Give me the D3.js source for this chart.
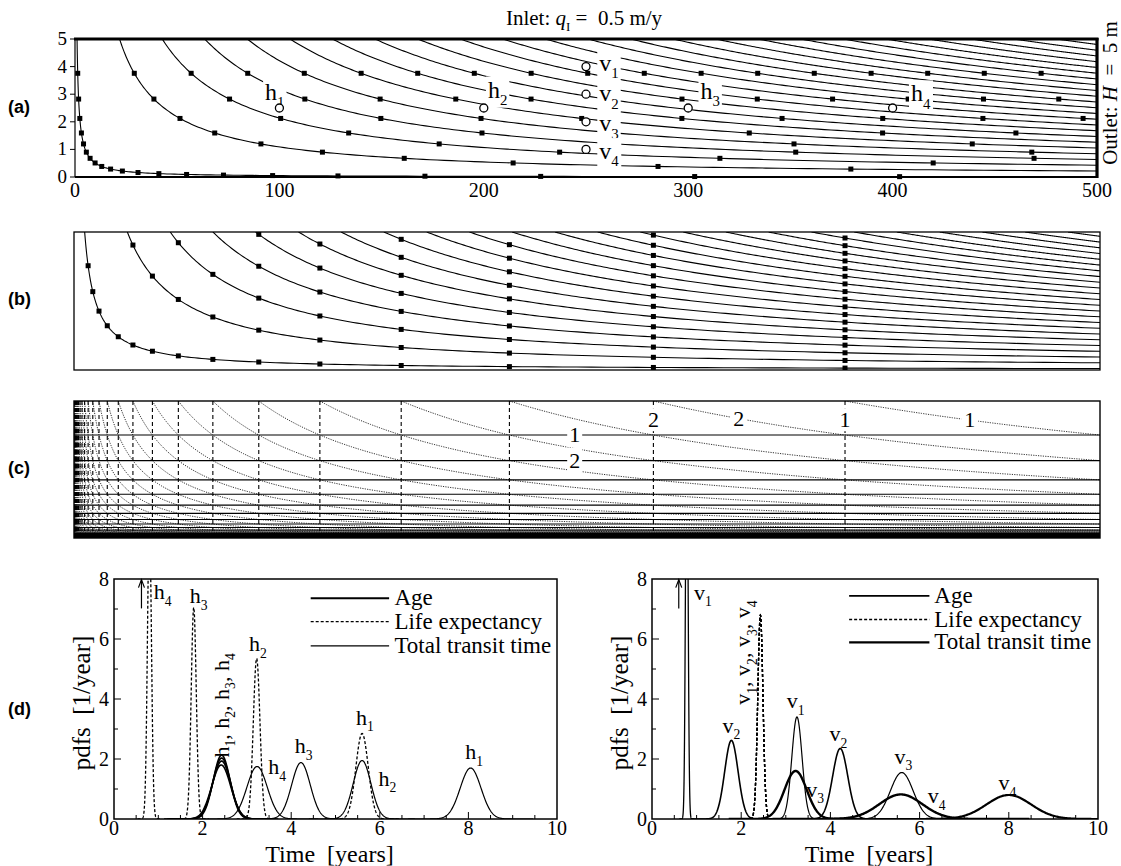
<!DOCTYPE html>
<html>
<head>
<meta charset="utf-8">
<script src="https://cdn.jsdelivr.net/npm/d3@7"></script>
<style>
body { margin: 0; background: #fff; }
svg text { font-family: "Liberation Serif", "DejaVu Serif", serif; fill: #000; white-space: pre; }
svg text.plab { font-family: "Liberation Sans", Arial, sans-serif; font-weight: bold; font-size: 18px; }
</style>
</head>
<body>
<svg id="fig" width="1121" height="866" font-family="Liberation Serif"></svg>
<script>
// ---- model / picture values ----
var aquiferLength = 500;     // m
var aquiferDepth = 5;        // m
var recharge = 0.5;          // m/y
var porosity = 0.35;

var xTicksA = [0, 100, 200, 300, 400, 500];
var zTicksA = [0, 1, 2, 3, 4, 5];

var streamStartA = [1, 21.8, 42.7, 63.5, 84.3, 105.2, 126, 146.8, 167.7, 188.5, 209.3, 230.2,
    251, 271.8, 292.7, 313.5, 334.3, 355.2, 376, 396.8, 417.7, 438.5, 459.3, 480.2];
var streamStartB = [5.2, 26, 46.9, 67.7, 88.5, 109.4, 130.2, 151, 171.9, 192.7, 213.5, 234.4,
    255.2, 276, 296.9, 317.7, 338.5, 359.4, 380.2, 401, 421.9, 442.7, 463.5, 484.4];

// isochrone years (markers and lines every year)
var isoYears = [1, 2, 3, 4, 5, 6, 7, 8, 9, 10, 11, 12, 13, 14, 15, 16, 17, 18, 19, 20,
    21, 22, 23, 24, 25, 26, 27, 28, 29, 30, 31, 32, 33, 34, 35, 36, 37, 38, 39, 40];

// observation points
var hPoints = [{name: "h1", x: 100, z: 2.5}, {name: "h2", x: 200, z: 2.5},
    {name: "h3", x: 300, z: 2.5}, {name: "h4", x: 400, z: 2.5}];
var vPoints = [{name: "v1", x: 250, z: 4}, {name: "v2", x: 250, z: 3},
    {name: "v3", x: 250, z: 2}, {name: "v4", x: 250, z: 1}];

// label anchors in panel (a), data coords (baseline, left)
var hLabelsA = [{s: "h1", x: 93, z: 2.8}, {s: "h2", x: 202, z: 2.88},
    {s: "h3", x: 306, z: 2.82}, {s: "h4", x: 409, z: 2.74}];
var vLabelsA = [{s: "v1", x: 256.5, z: 3.83}, {s: "v2", x: 256.5, z: 2.74},
    {s: "v3", x: 256.5, z: 1.65}, {s: "v4", x: 256.5, z: 0.65}];

// pdf peaks, panel (d): centre c [y], peak height p [1/y], spread s [y]
var hAgePeaks = [{pt: "h1", c: 2.43, p: 2.13, s: 0.19}, {pt: "h2", c: 2.43, p: 2.03, s: 0.2},
    {pt: "h3", c: 2.43, p: 1.93, s: 0.205}, {pt: "h4", c: 2.42, p: 1.8, s: 0.215}];
var hLifePeaks = [{pt: "h1", c: 5.6, p: 2.85, s: 0.14}, {pt: "h2", c: 3.22, p: 5.35, s: 0.075},
    {pt: "h3", c: 1.8, p: 7.05, s: 0.057}, {pt: "h4", c: 0.8, p: 10, s: 0.045}];
var hTotalPeaks = [{pt: "h1", c: 8.05, p: 1.7, s: 0.235}, {pt: "h2", c: 5.6, p: 1.95, s: 0.2},
    {pt: "h3", c: 4.22, p: 1.88, s: 0.21}, {pt: "h4", c: 3.23, p: 1.75, s: 0.23}];

var vAgePeaks = [{pt: "v1", c: 0.78, p: 14, s: 0.028}, {pt: "v2", c: 1.78, p: 2.62, s: 0.15},
    {pt: "v3", c: 3.22, p: 1.6, s: 0.25}, {pt: "v4", c: 5.58, p: 0.82, s: 0.48}];
var vLifePeaks = [{pt: "v1", c: 2.43, p: 6.8, s: 0.058}, {pt: "v2", c: 2.43, p: 6.8, s: 0.058},
    {pt: "v3", c: 2.43, p: 6.8, s: 0.058}, {pt: "v4", c: 2.43, p: 6.8, s: 0.058}];
var vTotalPeaks = [{pt: "v1", c: 3.25, p: 3.4, s: 0.115}, {pt: "v2", c: 4.22, p: 2.35, s: 0.17},
    {pt: "v3", c: 5.6, p: 1.55, s: 0.255}, {pt: "v4", c: 8.0, p: 0.8, s: 0.5}];

// curve labels, panel (d) (time, pdf) baseline-left
var hPdfLabels = [{s: "h4", t: 0.90, y: 7.32}, {s: "h3", t: 1.71, y: 7.19}, {s: "h2", t: 3.05, y: 5.59},
    {s: "h1", t: 5.46, y: 3.15}, {s: "h3", t: 4.08, y: 2.19}, {s: "h1", t: 7.93, y: 1.99},
    {s: "h4", t: 3.48, y: 1.49}, {s: "h2", t: 5.97, y: 1.11}];
var vPdfLabels = [{s: "v1", t: 0.94, y: 7.31}, {s: "v2", t: 1.58, y: 2.88}, {s: "v1", t: 3.02, y: 3.70},
    {s: "v2", t: 3.98, y: 2.60}, {s: "v3", t: 3.46, y: 0.74}, {s: "v3", t: 5.44, y: 1.84},
    {s: "v4", t: 6.18, y: 0.53}, {s: "v4", t: 7.77, y: 0.96}];

var timeTicks = [0, 2, 4, 6, 8, 10];
var pdfTicks = [0, 2, 4, 6, 8];
var legendNames = ["Age", "Life expectancy", "Total transit time"];

// ---- helpers ----
var tau = aquiferDepth * porosity / recharge;   // years per e-fold

var svg = d3.select("#fig");

function parseSub(s) {
    var parts = [];
    s.split(/(\d)/).forEach(function (piece, i) {
        if (piece === "") return;
        parts.push({t: piece, sub: i % 2 == 1});
    });
    return parts;
}

function richText(parent, x, y, parts, size) {
    var txt = parent.append("text").attr("x", x).attr("y", y).style("font-size", size + "px");
    var shift = 0;
    parts.forEach(function (p) {
        var ts = txt.append("tspan").text(p.t);
        var want = p.sub ? size * 0.3 : 0;
        if (want != shift) { ts.attr("dy", want - shift); shift = want; }
        if (p.sub) ts.style("font-size", (size * 0.62) + "px");
        if (p.it) ts.style("font-style", "italic");
    });
    return txt;
}

// label with a white box behind it
function boxedText(parent, x, y, parts, size, pad, anchor) {
    var g = parent.append("g");
    var r = g.append("rect").attr("fill", "#fff");
    var t = richText(g, x, y, parts, size);
    if (anchor) t.attr("text-anchor", anchor);
    var b = t.node().getBBox();
    r.attr("x", b.x - pad).attr("y", b.y + 2 - pad).attr("width", b.width + 2 * pad).attr("height", b.height - 4 + 2 * pad);
    return g;
}

function clipRect(id, x, y, w, h) {
    svg.append("clipPath").attr("id", id).append("rect")
        .attr("x", x).attr("y", y).attr("width", w).attr("height", h);
}

var line = d3.line();

function streamPath(x0, xs, zs) {
    var pts = [];
    var n = 160;
    for (var i = 0; i <= n; i++) {
        var x = x0 * Math.pow(aquiferLength / x0, i / n);
        pts.push([xs(x), zs(aquiferDepth * x0 / x)]);
    }
    return line(pts);
}

// ---- panel (a): streamlines with age markers ----
var xA = d3.scaleLinear().domain([0, 500]).range([75, 1097]);
var zA = d3.scaleLinear().domain([0, 5]).range([177, 39]);
clipRect("clipA", 75, 39, 1022, 138);

var gA = svg.append("g");
gA.append("g").attr("clip-path", "url(#clipA)")
    .selectAll("path").data(streamStartA).enter().append("path")
    .attr("d", function (d) { return streamPath(d, xA, zA); })
    .attr("fill", "none").attr("stroke", "#000").attr("stroke-width", 1.1);

var sqA = [];
streamStartA.forEach(function (x0) {
    isoYears.forEach(function (t) {
        var z = aquiferDepth * Math.exp(-t / tau);
        var x = aquiferDepth * x0 / z;
        if (x <= aquiferLength) sqA.push([x, z]);
    });
});
gA.selectAll(".sq").data(sqA).enter().append("rect")
    .attr("x", function (d) { return xA(d[0]) - 2.5; })
    .attr("y", function (d) { return zA(d[1]) - 2.5; })
    .attr("width", 5).attr("height", 5).attr("fill", "#000");

// frame: inlet on top, outlet on the right
gA.append("line").attr("x1", 75).attr("x2", 75).attr("y1", 39).attr("y2", 177).attr("stroke", "#000").attr("stroke-width", 1.2);
gA.append("line").attr("x1", 75).attr("x2", 1097).attr("y1", 177).attr("y2", 177).attr("stroke", "#000").attr("stroke-width", 2.2);
gA.append("line").attr("x1", 74).attr("x2", 1098.5).attr("y1", 39).attr("y2", 39).attr("stroke", "#000").attr("stroke-width", 3.2);
gA.append("line").attr("x1", 1097).attr("x2", 1097).attr("y1", 38).attr("y2", 178).attr("stroke", "#000").attr("stroke-width", 3.2);

gA.selectAll(".yt").data(zTicksA).enter().append("line")
    .attr("x1", 70).attr("x2", 75)
    .attr("y1", function (d) { return zA(d); }).attr("y2", function (d) { return zA(d); })
    .attr("stroke", "#000");
gA.selectAll(".yl").data(zTicksA).enter().append("text")
    .attr("x", 67).attr("y", function (d) { return zA(d) + 6; })
    .attr("text-anchor", "end").style("font-size", "19px")
    .text(function (d) { return d; });
gA.selectAll(".xl").data(xTicksA).enter().append("text")
    .attr("x", function (d) { return xA(d); }).attr("y", 197)
    .attr("text-anchor", "middle").style("font-size", "20px")
    .text(function (d) { return d; });

hLabelsA.concat(vLabelsA).forEach(function (d) {
    boxedText(gA, xA(d.x), zA(d.z), parseSub(d.s), 24, 2);
});

gA.selectAll(".pt").data(hPoints.concat(vPoints)).enter().append("circle")
    .attr("cx", function (d) { return xA(d.x); }).attr("cy", function (d) { return zA(d.z); })
    .attr("r", 4).attr("fill", "#fff").attr("stroke", "#000").attr("stroke-width", 1.3);

richText(gA, 584, 25, [{t: "Inlet: "}, {t: "q", it: true}, {t: "I", sub: true}, {t: " =  0.5 m/y"}], 21)
    .attr("text-anchor", "middle");
richText(gA.append("g").attr("transform", "translate(1117,93) rotate(-90)"), 0, 0,
    [{t: "Outlet: "}, {t: "H", it: true}, {t: "  =  5 m"}], 21).attr("text-anchor", "middle");

// ---- panel (b): streamlines with life-expectancy markers ----
var xB = d3.scaleLinear().domain([0, 500]).range([74, 1100]);
var zB = d3.scaleLinear().domain([0, 5]).range([370, 232]);
clipRect("clipB", 74, 232, 1026, 138);

var gB = svg.append("g");
gB.append("g").attr("clip-path", "url(#clipB)")
    .selectAll("path").data(streamStartB).enter().append("path")
    .attr("d", function (d) { return streamPath(d, xB, zB); })
    .attr("fill", "none").attr("stroke", "#000").attr("stroke-width", 1.1);

var sqB = [];
streamStartB.forEach(function (x0) {
    isoYears.forEach(function (t) {
        var x = aquiferLength * Math.exp(-t / tau);
        if (x >= x0) sqB.push([x, aquiferDepth * x0 / x]);
    });
});
gB.append("g").attr("clip-path", "url(#clipB)")
    .selectAll("rect").data(sqB).enter().append("rect")
    .attr("x", function (d) { return xB(d[0]) - 2.5; })
    .attr("y", function (d) { return zB(d[1]) - 2.5; })
    .attr("width", 5).attr("height", 5).attr("fill", "#000");
gB.append("rect").attr("x", 74).attr("y", 232).attr("width", 1026).attr("height", 138)
    .attr("fill", "none").attr("stroke", "#000").attr("stroke-width", 1.3);

// ---- panel (c): age, life-expectancy and transit-time isochrones ----
var xC = d3.scaleLinear().domain([0, 500]).range([74, 1100]);
var zC = d3.scaleLinear().domain([0, 5]).range([538, 401]);
clipRect("clipC", 74, 401, 1026, 137);

var gC = svg.append("g");
var gCi = gC.append("g").attr("clip-path", "url(#clipC)");

// total transit time: x*z = const
gCi.selectAll(".tt").data(isoYears).enter().append("path")
    .attr("d", function (t) {
        var x0 = aquiferLength * Math.exp(-t / tau);
        return streamPath(x0, xC, zC);
    })
    .attr("fill", "none").attr("stroke", "#333").attr("stroke-width", 1)
    .attr("stroke-dasharray", "1.2,1.2");
// life expectancy: vertical
gCi.selectAll(".le").data(isoYears).enter().append("line")
    .attr("x1", function (t) { return xC(aquiferLength * Math.exp(-t / tau)); })
    .attr("x2", function (t) { return xC(aquiferLength * Math.exp(-t / tau)); })
    .attr("y1", 401).attr("y2", 538)
    .attr("stroke", "#000").attr("stroke-width", 1.1).attr("stroke-dasharray", "4,3");
// age: horizontal
gCi.selectAll(".ag").data(isoYears).enter().append("line")
    .attr("x1", 74).attr("x2", 1100)
    .attr("y1", function (t) { return zC(aquiferDepth * Math.exp(-t / tau)); })
    .attr("y2", function (t) { return zC(aquiferDepth * Math.exp(-t / tau)); })
    .attr("stroke", "#000").attr("stroke-width", 1.1);

[1, 2].forEach(function (t) {
    var z = aquiferDepth * Math.exp(-t / tau);
    var xv = aquiferLength * Math.exp(-t / tau);
    boxedText(gC, xC(244), zC(z) + 7, [{t: String(t)}], 22, 2, "middle");
    boxedText(gC, xC(xv), zC(4.3) + 7, [{t: String(t)}], 22, 1, "middle");
});
// labels on the transit-time curves
[{t: 1, x: 436.5}, {t: 2, x: 323.9}].forEach(function (d) {
    var k = aquiferDepth * aquiferLength * Math.exp(-d.t / tau);
    boxedText(gC, xC(d.x), zC(k / d.x) + 7, [{t: String(d.t)}], 22, 3, "middle");
});
gC.append("rect").attr("x", 74).attr("y", 401).attr("width", 1026).attr("height", 137)
    .attr("fill", "none").attr("stroke", "#000").attr("stroke-width", 1.4);

// ---- panel (d): pdfs ----
var pdfY = d3.scaleLinear().domain([0, 8]).range([819, 579]);

function pdfPath(d, xs) {
    var pts = [];
    for (var t = d.c - 6 * d.s; t <= d.c + 6 * d.s; t += d.s / 25) {
        pts.push([xs(t), pdfY(d.p * Math.exp(-0.5 * Math.pow((t - d.c) / d.s, 2)))]);
    }
    return line(pts);
}

function drawPdfPanel(id, x0, x1, ages, lifes, totals, widths, labels, rotText, rotPos, arrowT, legend) {
    var xs = d3.scaleLinear().domain([0, 10]).range([x0, x1]);
    clipRect(id, x0, 579, x1 - x0, 240);
    var g = svg.append("g");
    var gi = g.append("g").attr("clip-path", "url(#" + id + ")");

    gi.selectAll(".a").data(ages).enter().append("path")
        .attr("d", function (d) { return pdfPath(d, xs); })
        .attr("fill", "none").attr("stroke", "#000")
        .attr("stroke-width", function (d) { return widths[d.pt + "a"] || 1.8; });
    gi.selectAll(".l").data(lifes).enter().append("path")
        .attr("d", function (d) { return pdfPath(d, xs); })
        .attr("fill", "none").attr("stroke", "#000").attr("stroke-width", 1.3)
        .attr("stroke-dasharray", "3,2");
    gi.selectAll(".t").data(totals).enter().append("path")
        .attr("d", function (d) { return pdfPath(d, xs); })
        .attr("fill", "none").attr("stroke", "#000")
        .attr("stroke-width", function (d) { return widths[d.pt + "t"] || 1.2; });

    // frame and ticks
    g.append("rect").attr("x", x0).attr("y", 579).attr("width", x1 - x0).attr("height", 240)
        .attr("fill", "none").attr("stroke", "#000").attr("stroke-width", 1.5);
    var minorT = d3.range(0, 10.01, 0.5).filter(function (v) { return v % 2 != 0; });
    g.selectAll(".xt").data(timeTicks.slice(1, -1)).enter().append("line")
        .attr("x1", function (d) { return xs(d); }).attr("x2", function (d) { return xs(d); })
        .attr("y1", 819).attr("y2", 812).attr("stroke", "#000");
    g.selectAll(".xm").data(minorT).enter().append("line")
        .attr("x1", function (d) { return xs(d); }).attr("x2", function (d) { return xs(d); })
        .attr("y1", 819).attr("y2", 815).attr("stroke", "#000");
    g.selectAll(".yt").data(pdfTicks.slice(1, -1)).enter().append("line")
        .attr("x1", x0).attr("x2", x0 + 7)
        .attr("y1", function (d) { return pdfY(d); }).attr("y2", function (d) { return pdfY(d); })
        .attr("stroke", "#000");
    g.selectAll(".ym").data([1, 3, 5, 7]).enter().append("line")
        .attr("x1", x0).attr("x2", x0 + 4)
        .attr("y1", function (d) { return pdfY(d); }).attr("y2", function (d) { return pdfY(d); })
        .attr("stroke", "#000");
    g.selectAll(".xl").data(timeTicks).enter().append("text")
        .attr("x", function (d) { return xs(d); }).attr("y", 835)
        .attr("text-anchor", "middle").style("font-size", "20px")
        .text(function (d) { return d; });
    g.selectAll(".yl").data(pdfTicks).enter().append("text")
        .attr("x", x0 - 5).attr("y", function (d) { return pdfY(d) + 7; })
        .attr("text-anchor", "end").style("font-size", "20px")
        .text(function (d) { return d; });
    g.append("text").attr("x", (x0 + x1) / 2 - 6).attr("y", 862).attr("text-anchor", "middle")
        .style("font-size", "24px").text("Time  [years]");
    g.append("text").attr("transform", "translate(" + (x0 - 24) + ",703) rotate(-90)")
        .attr("text-anchor", "middle").style("font-size", "25px").text("pdfs  [1/year]");

    // arrow for the clipped spike
    var ax = xs(arrowT);
    g.append("line").attr("x1", ax).attr("x2", ax).attr("y1", pdfY(7.02)).attr("y2", pdfY(7.98))
        .attr("stroke", "#000").attr("stroke-width", 1.2);
    g.append("path").attr("d", "M" + (ax - 3) + "," + (pdfY(7.98) + 8) + "L" + ax + "," + pdfY(7.98) + "L" + (ax + 3) + "," + (pdfY(7.98) + 8))
        .attr("fill", "none").attr("stroke", "#000").attr("stroke-width", 1.2);

    labels.forEach(function (d) {
        richText(g, xs(d.t), pdfY(d.y), parseSub(d.s), 22);
    });
    richText(g.append("g").attr("transform", "translate(" + xs(rotPos[0]) + "," + pdfY(rotPos[1]) + ") rotate(-90)"),
        0, 0, parseSub(rotText), 22);

    // legend
    legend.rows.forEach(function (ry, i) {
        var ly = pdfY(ry);
        var l = g.append("line").attr("x1", xs(legend.x0)).attr("x2", xs(legend.x1))
            .attr("y1", ly).attr("y2", ly).attr("stroke", "#000")
            .attr("stroke-width", legend.widths[i]);
        if (i == 1) l.attr("stroke-dasharray", "3,2");
        g.append("text").attr("x", xs(legend.tx)).attr("y", ly + 7)
            .style("font-size", "23px").text(legendNames[i]);
    });
}

drawPdfPanel("clipDL", 114, 557, hAgePeaks, hLifePeaks, hTotalPeaks,
    {h1a: 1.6, h2a: 1.6, h3a: 1.6, h4a: 1.6},
    hPdfLabels, "h1, h2, h3, h4", [2.59, 2.05], 0.62,
    {x0: 4.44, x1: 6.21, tx: 6.33, rows: [7.36, 6.58, 5.77], widths: [2, 1.3, 1.2]});

drawPdfPanel("clipDR", 652, 1098, vAgePeaks, vLifePeaks, vTotalPeaks,
    {v1a: 1.3, v2a: 1.6, v3a: 2.4, v4a: 2.4, v1t: 1.2, v2t: 1.6, v3t: 1.2, v4t: 2.2},
    vPdfLabels, "v1, v2, v3, v4", [2.2, 3.81], 0.60,
    {x0: 4.42, x1: 6.22, tx: 6.33, rows: [7.44, 6.65, 5.89], widths: [1.8, 1.3, 2.2]});

// panel letters
[["(a)", 113], ["(b)", 305], ["(c)", 474], ["(d)", 715]].forEach(function (d) {
    svg.append("text").attr("class", "plab").attr("x", 8).attr("y", d[1]).text(d[0]);
});
</script>
</body>
</html>
